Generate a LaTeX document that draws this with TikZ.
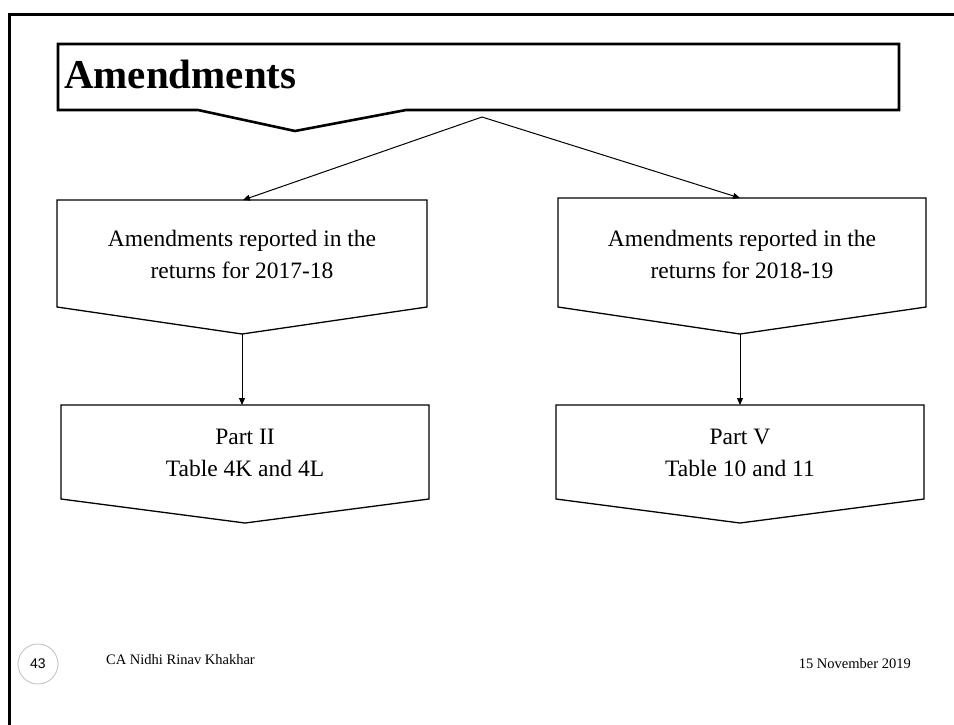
\documentclass[tikz,border=0pt]{standalone}
\usepackage{fontspec}
\setmainfont{Liberation Serif}
\newfontfamily\numfont{Liberation Sans}
\usetikzlibrary{arrows.meta}
\begin{document}
\begin{tikzpicture}[x=1pt,y=-1pt,
  shapeline/.style={draw=black,line width=1.3pt,fill=white,line join=miter},
  titleline/.style={draw=black,line width=2.6pt,fill=white,line join=miter},
  conn/.style={draw=black,line width=1pt,-{Triangle[length=7pt,width=6pt]}},
  boxtext/.style={align=center,font=\fontsize{23.5}{32}\selectfont,inner sep=0pt},
  foot/.style={font=\fontsize{14.5}{17}\selectfont,inner sep=0pt}]
\useasboundingbox (0,0) rectangle (954,724);
% slide frame
\draw[line width=3pt] (9,740) -- (9,14) -- (970,14);
% title box
\draw[titleline] (58,44) -- (899,44) -- (899,110) -- (406,110) -- (295,131) -- (198,110) -- (58,110) -- cycle;
\node[anchor=base west,inner sep=0pt,font=\fontsize{41}{48}\selectfont\bfseries] (title) at (64,88) {Amendments};
% upper boxes
\draw[shapeline] (57,200) -- (427,200) -- (427,307) -- (242,334) -- (57,307) -- cycle;
\draw[shapeline] (558,198) -- (926,198) -- (926,307) -- (740,334) -- (558,307) -- cycle;
\node[boxtext] (a1) at (242,254) {Amendments reported in the\\returns for 2017-18};
\node[boxtext] (a2) at (742,254) {Amendments reported in the\\returns for 2018-19};
% lower boxes
\draw[shapeline] (61,405) -- (429,405) -- (429,499) -- (245,523) -- (61,499) -- cycle;
\draw[shapeline] (556,405) -- (924,405) -- (924,499) -- (740,523) -- (556,499) -- cycle;
\node[boxtext] (b1) at (245,453) {Part II\\Table 4K and 4L};
\node[boxtext] (b2) at (740,453) {Part V\\Table 10 and 11};
% connector points
\coordinate (apex) at (482,117);
\coordinate (a1top) at (243,200);
\coordinate (a2top) at (740,198);
\coordinate (a1bot) at (242,334);
\coordinate (a2bot) at (740,334);
\coordinate (b1top) at (242,405);
\coordinate (b2top) at (740,405);
\draw[conn] (apex) -- (a1top);
\draw[conn] (apex) -- (a2top);
\draw[conn] (a1bot) -- (b1top);
\draw[conn] (a2bot) -- (b2top);
% footer
\node[circle,draw=black!25,line width=0.8pt,minimum size=40pt,inner sep=0pt,font=\numfont\fontsize{14}{16}\selectfont] (num) at (38,664) {43};
\node[foot,anchor=west] (author) at (106,660) {CA Nidhi Rinav Khakhar};
\node[foot,anchor=east] (date) at (911,664) {15 November 2019};
\end{tikzpicture}
\end{document}
